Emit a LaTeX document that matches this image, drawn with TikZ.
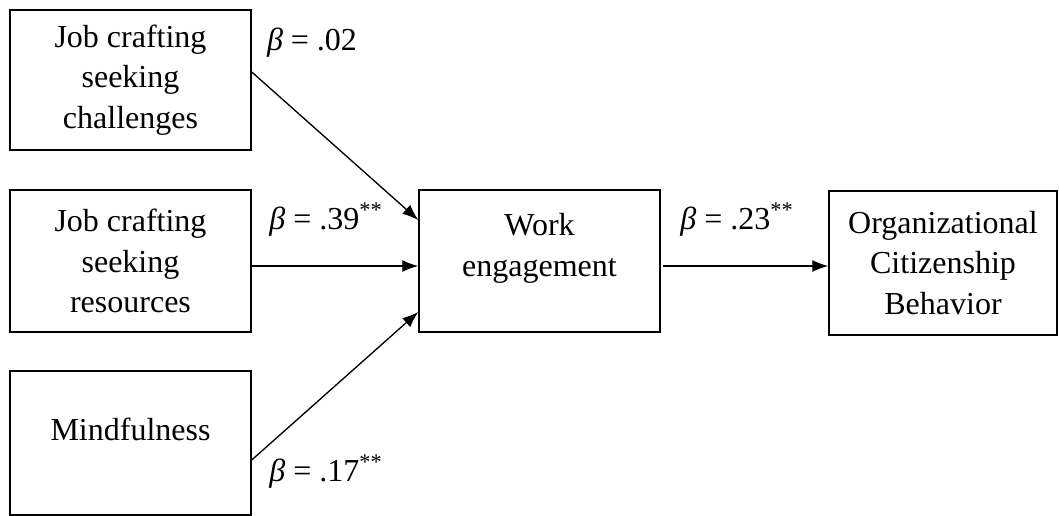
\documentclass[tikz,border=0pt]{standalone}
\usepackage{fontspec}
\setmainfont{Liberation Serif}
\usepackage{tikz}
\usetikzlibrary{calc,arrows.meta}

\tikzset{
  varbox/.style={draw, line width=1.1pt, inner sep=0pt, align=center,
    font=\fontsize{24}{30.5}\selectfont, minimum width=180.75pt},
  coef/.style={inner sep=0pt, font=\fontsize{24}{30.5}\selectfont},
  effect/.style={line width=1pt, -{Latex[length=12pt,width=9pt]}}
}

\begin{document}
\begin{tikzpicture}[x=0.75pt, y=-0.75pt]
    \useasboundingbox (0,0) rectangle (1059,516);
    \node[varbox, minimum height=105pt] (jcc) at (130.5,80) {Job crafting\\seeking\\challenges};
    \node[varbox, minimum height=106.5pt] (jcr) at (130.5,261) {Job crafting\\seeking\\resources};
    \node[varbox, minimum height=108pt, text depth=20pt] (mind) at (130.5,443) {Mindfulness};
    \node[varbox, minimum height=106.5pt, text depth=24pt] (we) at (539.5,261) {Work\\engagement};
    \node[varbox, minimum height=108pt, minimum width=171pt] (ocb) at (943,263) {Organizational\\Citizenship\\Behavior};
    \draw[effect] ([yshift=6pt]jcc.east) -- ([yshift=30.75pt]we.west);
    \draw[effect] ([yshift=-3.75pt]jcr.east) -- ([yshift=-3.75pt]we.west);
    \draw[effect] ([yshift=-12.75pt]mind.east) -- ([yshift=-38.25pt]we.west);
    \draw[effect] ([xshift=2pt,yshift=-3.75pt]we.east) -- ([yshift=-3.75pt]we.east -| ocb.west);
    \node[coef] (b02) at (312,43) {\textit{β} = .02};
    \node[coef] (b39) at (326,220) {\textit{β} = .39\textsuperscript{**}};
    \node[coef] (b23) at (737,220) {\textit{β} = .23\textsuperscript{**}};
    \node[coef] (b17) at (326,472) {\textit{β} = .17\textsuperscript{**}};
\end{tikzpicture}
\end{document}
